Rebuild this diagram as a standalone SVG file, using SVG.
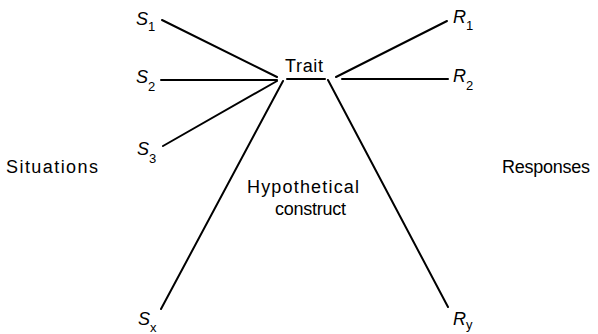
<svg xmlns="http://www.w3.org/2000/svg" width="598" height="334" viewBox="0 0 598 334">
<style>
.l{stroke:#000;stroke-width:2;fill:none;stroke-linecap:round}
.t{font-family:"Liberation Sans",Arial,sans-serif;font-size:18px;fill:#000}
.v{font-family:"Liberation Sans",Arial,sans-serif;font-size:18px;font-style:italic;fill:#000}
.s{font-size:13px;font-style:normal}
</style>
<rect width="598" height="334" fill="#fff"/>
<g id="connectors">
<line class="l" x1="162" y1="20" x2="277" y2="77"/>
<line class="l" x1="161" y1="80" x2="277" y2="80"/>
<line class="l" x1="163" y1="146" x2="277" y2="81"/>
<line class="l" x1="161" y1="309" x2="283" y2="81"/>
<line class="l" x1="287" y1="79" x2="325" y2="79"/>
<line class="l" x1="336" y1="77" x2="447" y2="21"/>
<line class="l" x1="342" y1="79" x2="448" y2="79"/>
<line class="l" x1="328" y1="80" x2="448" y2="307"/>
</g>
<g id="trait"><text class="t" x="285" y="72" textLength="38">Trait</text></g>
<g id="construct">
<text class="t" x="247" y="193" textLength="112">Hypothetical</text>
<text class="t" x="275" y="215" textLength="71">construct</text>
</g>
<g id="situations"><text class="t" x="6" y="173" textLength="92">Situations</text></g>
<g id="responses"><text class="t" x="502" y="173" textLength="88">Responses</text></g>
<g id="S1"><text class="v" x="136" y="25">S<tspan class="s" dy="6">1</tspan></text></g>
<g id="S2"><text class="v" x="136" y="83">S<tspan class="s" dy="8">2</tspan></text></g>
<g id="S3"><text class="v" x="137" y="155">S<tspan class="s" dy="8">3</tspan></text></g>
<g id="Sx"><text class="v" x="138" y="325">S<tspan class="s" dy="7">x</tspan></text></g>
<g id="R1"><text class="v" x="453" y="23">R<tspan class="s" dy="7">1</tspan></text></g>
<g id="R2"><text class="v" x="453" y="82">R<tspan class="s" dy="8">2</tspan></text></g>
<g id="Ry"><text class="v" x="453" y="325">R<tspan class="s" dy="4">y</tspan></text></g>
</svg>
